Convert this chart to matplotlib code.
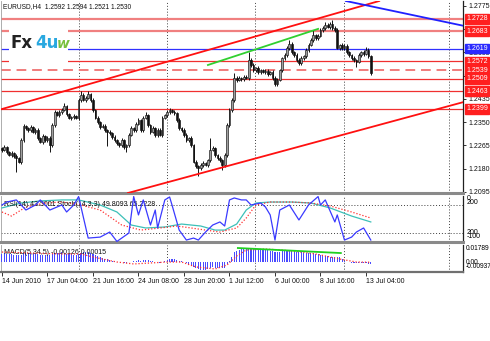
import matplotlib
matplotlib.use('Agg')
import matplotlib.pyplot as plt
import numpy as np
from matplotlib.patches import Rectangle

plt.rcParams['font.family'] = ['Liberation Sans', 'DejaVu Sans']

# ---------------- data ----------------
first_open = 1.2255
closes = [1.2248, 1.2259, 1.2240, 1.2229, 1.2237, 1.2226, 1.2218, 1.2204, 1.2284, 1.2336,
          1.2328, 1.2321, 1.2332, 1.2314, 1.2321, 1.2292, 1.2277, 1.2299, 1.2284, 1.2292,
          1.2266, 1.2339, 1.2387, 1.2376, 1.2387, 1.2394, 1.2409, 1.2379, 1.2365, 1.2368,
          1.2372, 1.2365, 1.2431, 1.2449, 1.2431, 1.2438, 1.2453, 1.2431, 1.2394, 1.2365,
          1.2350, 1.2332, 1.2336, 1.2321, 1.2314, 1.2310, 1.2295, 1.2284, 1.2273, 1.2266,
          1.2284, 1.2259, 1.2266, 1.2303, 1.2328, 1.2321, 1.2343, 1.2357, 1.2321, 1.2365,
          1.2376, 1.2339, 1.2314, 1.2328, 1.2303, 1.2321, 1.2303, 1.2365, 1.2376, 1.2387,
          1.2394, 1.2387, 1.2383, 1.2357, 1.2328, 1.2321, 1.2303, 1.2284, 1.2292, 1.2266,
          1.2204, 1.2189, 1.2182, 1.2193, 1.2200, 1.2193, 1.2211, 1.2248, 1.2255, 1.2229,
          1.2218, 1.2211, 1.2193, 1.2229, 1.2339, 1.2394, 1.2431, 1.2511, 1.2504, 1.2511,
          1.2508, 1.2515, 1.2511, 1.2577, 1.2559, 1.2540, 1.2548, 1.2533, 1.2540, 1.2533,
          1.2537, 1.2526, 1.2533, 1.2511, 1.2489, 1.2504, 1.2540, 1.2584, 1.2595, 1.2621,
          1.2636, 1.2606, 1.2595, 1.2577, 1.2566, 1.2584, 1.2592, 1.2614, 1.2632, 1.2650,
          1.2668, 1.2658, 1.2665, 1.2687, 1.2694, 1.2705, 1.2698, 1.2709, 1.2694, 1.2687,
          1.2621, 1.2632, 1.2621, 1.2628, 1.2606, 1.2595, 1.2584, 1.2577, 1.2570, 1.2595,
          1.2606, 1.2599, 1.2614, 1.2592, 1.2530]
upper_wick_pips = [5,7,4,6,8,5,6,4,9,7, 5,6,8,4,6,7,5,6,4,8, 6,7,9,5,6,8,11,5,4,6,
                   7,5,8,15,6,7,11,5,6,4, 7,5,6,8,4,6,5,7,6,5, 8,6,4,7,9,5,6,8,5,7,
                   11,5,6,7,4,8,6,7,5,6, 8,5,6,4,7,5,6,8,5,6, 4,7,5,6,8,5,6,44,7,5,
                   6,8,4,7,9,6,8,18,6,7, 5,6,8,29,6,7,5,8,6,5, 7,6,5,8,6,7,5,6,9,7,
                   14,6,5,7,6,8,5,7,6,8, 19,6,7,8,6,11,7,6,14,8, 6,5,7,6,8,5,6,7,5,8,
                   6,7,9,6,2]
lower_wick_pips = [6,5,7,4,6,8,50,5,6,7, 5,8,6,4,7,6,5,8,6,5, 26,6,7,5,8,6,4,7,5,6,
                   8,5,6,7,5,6,4,8,6,5, 7,6,5,8,50,6,7,5,6,8, 5,6,19,7,5,6,8,4,6,7,
                   5,8,6,5,7,6,4,8,5,6, 7,5,6,8,5,6,7,5,8,6, 5,7,30,6,8,5,6,7,5,6,
                   8,5,19,6,7,5,8,6,7,5, 6,8,5,7,6,5,8,6,7,5, 6,7,5,8,6,7,5,6,8,5,
                   6,7,5,8,6,7,5,6,8,5, 7,6,8,5,6,7,5,8,6,7, 5,6,7,8,6,5,7,6,19,5,
                   6,8,5,7,9]

# horizontal levels
levels = [1.2728, 1.2683, 1.2619, 1.2572, 1.2539, 1.2509, 1.2463, 1.2399]
level_kind = ['pink', 'pink', 'blue', 'red', 'dash', 'red', 'red', 'red']

# trend lines (bar index, price)
upper_channel = [(0, 1.2398), (159.1, 1.2797)]
lower_channel = [(50.5, 1.2086), (192.5, 1.2423)]
green_line = [(86, 1.2559), (132, 1.2691)]
blue_line = [(143.6, 1.2793), (192.9, 1.2702)]

# time axis
time_ticks = [0, 19, 38, 57, 76, 95, 114, 133, 152]
time_labels = ['14 Jun 2010', '17 Jun 04:00', '21 Jun 16:00', '24 Jun 08:00', '28 Jun 20:00',
               '1 Jul 12:00', '6 Jul 00:00', '8 Jul 16:00', '13 Jul 04:00']
grid_bars = [32.15, 68.9, 105.6, 142.8, 186.6]
price_ticks = [1.2775, 1.2690, 1.2605, 1.2520, 1.2435, 1.2350, 1.2265, 1.2180, 1.2095]

# oscillator window
osc_main_x = [0,2,6,10,14,16,20,25,27,30,32,36,41,45,48,53,55,57,59,62,64,65,68,70,71,74,77,80,82,85,
              88,91,93,95,97,100,102,104,108,110,112,114,116,120,124,128,132,133,135,139,140,143,146,148,151,154]
osc_main_v = [100,121,136,64,100,136,64,100,50,100,160,-136,-129,-93,-160,-100,160,29,136,-43,64,-64,136,157,100,-79,-150,-136,-150,-93,
              -43,-21,-50,136,150,136,136,100,114,86,29,-150,64,100,-7,100,160,100,136,-21,29,-150,-129,-93,-64,-150]
osc_cyan_x = [0,8,16,25,32,41,48,54,60,68,75,83,89,93,98,102,106,112,121,129,137,146,154]
osc_cyan_v = [79,114,129,136,136,100,50,-43,-64,-57,-36,-50,-79,-79,-36,64,114,121,121,114,79,21,-21]
osc_red_x = [0,4,10,18,25,33,41,50,58,66,73,79,85,91,98,102,106,112,121,129,137,146,154]
osc_red_v = [50,21,86,114,121,100,64,-43,-79,-64,-50,-64,-79,-93,-64,7,100,121,121,114,93,50,7]
osc_levels = [100, -100]

# MACD window (units of 0.001)
macd_hist = [9.5, 9.8, 9.2, 8.8, 9.0, 8.6, 8.2, 7.8, 8.6, 9.8, 10.2, 10.0, 10.3, 9.8, 9.6, 9.0, 8.4, 8.6, 8.2, 8.4,
             7.6, 8.8, 10.2, 10.4, 10.8, 11.0, 10.2, 9.6, 9.2, 8.8, 8.4, 8.0,
             9.6, 10.8, 11.0, 11.2, 11.4, 10.8,
             9.6, 8.2, 7.0, 5.8, 5.0, 4.2, 3.4, 2.8, 2.0, 1.2,
             0.6, 0.2, 0.4, -0.2, -0.4, 0.2, 0.8, 1.0, 1.6, 2.2, 1.6, 2.4, 2.8, 2.2, 1.4, 1.0, 0.4, 0.2, -0.2, 0.6, 1.4,
             2.6, 3.4, 3.8, 3.6, 3.0, 2.0, 1.0, 0.0,
             -1.2, -2.4, -3.4, -5.0, -6.2, -7.2, -7.8, -8.0, -7.8, -7.2, -6.0, -5.4, -5.6, -5.8, -6.0, -6.4, -5.6,
             -2.0, 2.0, 6.0, 11.0,
             12.8, 13.6, 14.2, 14.6, 15.0, 15.2, 15.2, 15.0, 14.8, 14.6, 14.4, 14.0, 13.6, 13.2, 12.8, 12.2, 11.2,
             11.0, 11.4, 12.0, 12.4, 12.8, 12.8, 12.4, 12.0, 11.6, 11.0,
             11.0, 10.8, 10.6, 10.4, 10.2, 10.0, 9.6, 9.0, 8.4, 7.8, 7.2, 6.8, 6.4, 6.2, 6.0, 5.8, 5.4,
             4.0, 2.0, 0.8, 0.2, -0.3, -0.6, -0.8, -1.0, -1.1, -1.2, -1.2, -1.26, -1.26]
macd_sig_x = [0, 12, 25, 33, 38, 48, 55, 69, 75, 81, 89, 94, 98, 102, 110, 117, 125, 131, 137, 141, 148, 154]
macd_sig_v = [11.3, 10.2, 9.2, 9.2, 5.9, 0.4, -1.7, 0.4, 0.4, -5.0, -7.2, -2.8, 7.0, 13.5, 14.6, 13.5, 11.3, 9.2, 5.9, 3.7, 0.4, 0.15]
macd_green = [(98.5, 15.7), (141.5, 10.2)]

# ---------------- figure ----------------
W, H = 490, 341
fig = plt.figure(figsize=(W / 100, H / 100), dpi=100)
fig.patch.set_facecolor('white')


def rect(l, t, r, b):
    return [l / W, 1 - b / H, (r - l) / W, (b - t) / H]


def fx(px):
    return px / W


def fy(py):
    return 1 - py / H


ax1 = fig.add_axes(rect(1, 1, 463, 193))
ax2 = fig.add_axes(rect(1, 196, 463, 242))
ax3 = fig.add_axes(rect(1, 245, 463, 272))
XL = (-0.4, -0.4 + 462 / 2.395)
FS = 5.0

for ax in (ax1, ax2, ax3):
    ax.set_xlim(*XL)
    ax.set_facecolor('white')
    for s in ('top', 'bottom', 'left', 'right'):
        ax.spines[s].set_visible(False)
    ax.spines['right'].set_visible(True)
    ax.spines['right'].set_color('#202020')
    ax.spines['right'].set_linewidth(0.9)
    ax.spines['left'].set_visible(True)
    ax.spines['left'].set_color('#a0a0a0')
    ax.spines['left'].set_linewidth(0.6)
    for g in grid_bars:
        ax.axvline(g, color='#404040', lw=0.7, ls=(0, (1, 2)), zorder=1)
    ax.tick_params(axis='x', which='both', bottom=False, labelbottom=False)

# separators
for ax, col, lw in ((ax1, '#8a8a8a', 2.2), (ax2, '#8a8a8a', 2.2), (ax3, '#707070', 1.6)):
    ax.spines['bottom'].set_visible(True)
    ax.spines['bottom'].set_color(col)
    ax.spines['bottom'].set_linewidth(lw)

# ---- main price panel ----
ax1.set_ylim(1.2091, 1.2793)
closes_a = np.array(closes)
opens_a = np.array([first_open] + closes[:-1])
highs_a = np.maximum(opens_a, closes_a) + np.array(upper_wick_pips) / 1e4
lows_a = np.minimum(opens_a, closes_a) - np.array(lower_wick_pips) / 1e4
xb = np.arange(len(closes))
ax1.vlines(xb, lows_a, highs_a, color='#111111', lw=0.7, zorder=4)
bull = closes_a >= opens_a
body_h = np.maximum(np.abs(closes_a - opens_a), 0.00012)
body_b = np.minimum(opens_a, closes_a)
ax1.bar(xb[bull], body_h[bull], bottom=body_b[bull], width=0.72, color='#a0a0a0',
        edgecolor='#111111', linewidth=0.45, zorder=5)
ax1.bar(xb[~bull], body_h[~bull], bottom=body_b[~bull], width=0.72, color='#111111',
        edgecolor='#111111', linewidth=0.45, zorder=5)

for lv, kind in zip(levels, level_kind):
    if kind == 'pink':
        ax1.axhline(lv, color='#f08080', lw=1.6, zorder=2)
    elif kind == 'blue':
        ax1.axhline(lv, color='#3030ff', lw=0.9, zorder=2)
    elif kind == 'dash':
        ax1.axhline(lv, color='#f07c7c', lw=1.4, ls=(0, (5, 3)), zorder=2)
    else:
        ax1.axhline(lv, color='#f03030', lw=0.9, zorder=2)

ax1.axline(upper_channel[0], upper_channel[1], color='#ff1010', lw=1.3, zorder=6)
ax1.axline(lower_channel[0], lower_channel[1], color='#ff1010', lw=1.3, zorder=6)
ax1.axline(blue_line[0], blue_line[1], color='#2020ff', lw=1.3, zorder=6)
ax1.plot([green_line[0][0], green_line[1][0]], [green_line[0][1], green_line[1][1]],
         color='#30d030', lw=1.3, zorder=6)

ax1.yaxis.tick_right()
ax1.set_yticks(price_ticks)
ax1.set_yticklabels([f'{p:.4f}' for p in price_ticks])
ax1.tick_params(axis='y', which='both', right=True, length=2.5, width=0.6, pad=1.5,
                labelsize=FS, colors='#111111')

# level boxes on the right
for lv, kind in zip(levels, level_kind):
    ypx = 1 + (1.2793 - lv) / (1.2793 - 1.2091) * 192
    col = '#2a2aff' if kind == 'blue' else '#ff1f1f'
    fig.text(fx(477), fy(ypx), f'{lv:.4f}', color='white', fontsize=FS, ha='center', va='center',
             bbox=dict(boxstyle='square,pad=0.2', fc=col, ec=col), zorder=10)

# title
fig.text(fx(3), fy(7), 'EURUSD,H4  1.2592 1.2594 1.2521 1.2530', fontsize=4.8, ha='left',
         va='center', color='#111111')

# logo
fig.patches.append(Rectangle((fx(9), fy(63)), fx(68) - fx(9), fy(24) - fy(63), transform=fig.transFigure,
                             facecolor='white', edgecolor='none', zorder=8))
fig.text(fx(10), fy(43), 'Fx', fontsize=12, fontweight='bold', color='#222222', ha='left', va='center',
         family='DejaVu Sans', zorder=9)
fig.text(fx(35), fy(43), '4u', fontsize=12, fontweight='bold', color='#29a8e0', ha='left', va='center',
         family='DejaVu Sans', zorder=9)
fig.text(fx(57), fy(44), 'w', fontsize=10, fontweight='bold', color='#78c040', ha='left', va='center',
         family='DejaVu Sans', style='italic', zorder=9)

# ---- oscillator panel ----
ax2.set_ylim(-164, 164)
for lv in osc_levels:
    ax2.axhline(lv, color='#404040', lw=0.7, ls=(0, (1, 2)), zorder=1)
ax2.plot(osc_cyan_x, osc_cyan_v, color='#3cc0b8', lw=0.9, zorder=3)
ax2.plot(osc_red_x, osc_red_v, color='#ff3030', lw=0.9, ls=(0, (1, 1.5)), zorder=3)
ax2.plot(osc_main_x, osc_main_v, color='#3a3aff', lw=0.9, zorder=4)
ax2.set_yticks([])
ax2.text(0.006, 0.82, 'RSI(14) 43.5001 Stoch(14,3,3) 49.8093 65.2228', transform=ax2.transAxes,
         fontsize=FS, ha='left', va='center', color='#111111')
fig.text(fx(467), fy(199), '0', fontsize=FS, ha='left', va='center')
fig.text(fx(467), fy(203), '200', fontsize=FS, ha='left', va='center')
fig.text(fx(467), fy(233), '200', fontsize=FS, ha='left', va='center')
fig.text(fx(467), fy(237), '-100', fontsize=FS, ha='left', va='center')

# ---- MACD panel ----
ax3.set_ylim(-10.5, 19.0)
ax3.bar(xb, macd_hist, width=0.45, color='#4a4aff', zorder=3)
ax3.plot(macd_sig_x, macd_sig_v, color='#ff3030', lw=0.9, ls=(0, (1, 1.5)), zorder=4)
ax3.plot([macd_green[0][0], macd_green[1][0]], [macd_green[0][1], macd_green[1][1]], color='#20d020',
         lw=1.3, zorder=5)
ax3.set_yticks([])
ax3.text(0.006, 0.72, 'MACD(5,34,5) -0.00126 0.00015', transform=ax3.transAxes, fontsize=FS,
         ha='left', va='center', color='#111111')
fig.text(fx(466), fy(249), '0.01789', fontsize=4.8, ha='left', va='center')
fig.text(fx(466), fy(262), '0.00', fontsize=4.8, ha='left', va='center')
fig.text(fx(466), fy(267), '-0.00937', fontsize=4.8, ha='left', va='center')

ax3.set_xticks(time_ticks)
ax3.set_xticklabels(time_labels, ha='left')
ax3.tick_params(axis='x', bottom=True, labelbottom=True, length=3, width=0.6, pad=1.0,
                labelsize=FS, colors='#111111')

fig.savefig('out.png', dpi=100, facecolor='white')
